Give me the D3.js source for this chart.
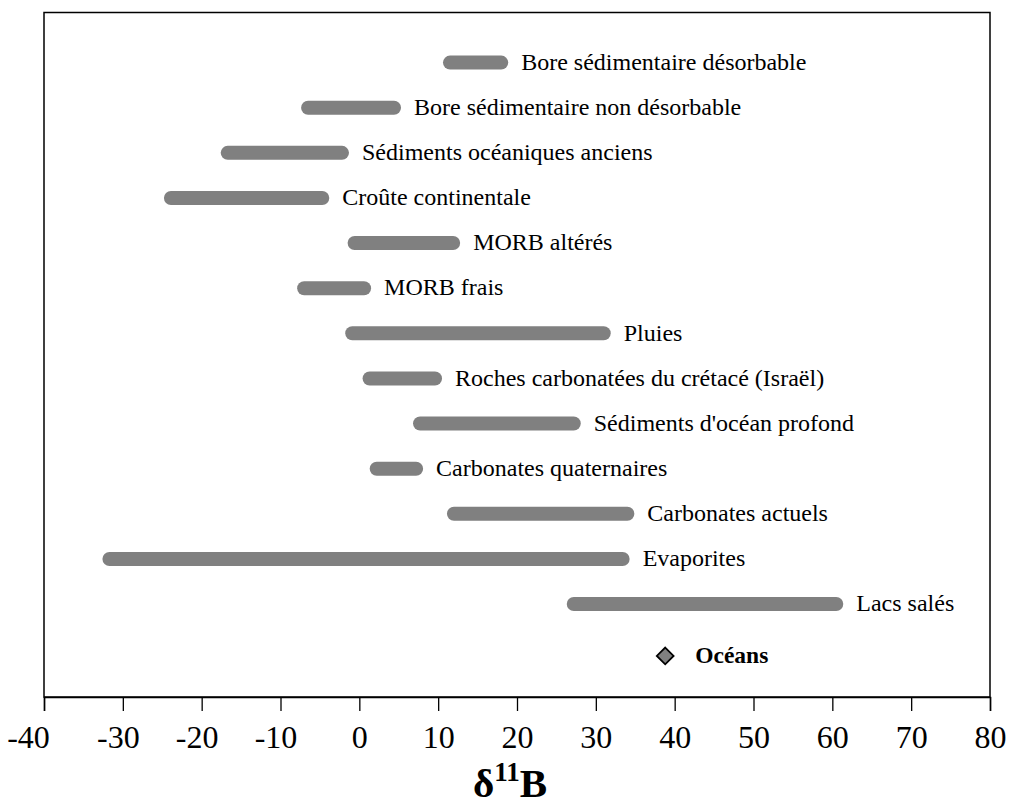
<!DOCTYPE html>
<html>
<head>
<meta charset="utf-8">
<script src="https://cdn.jsdelivr.net/npm/d3@7"></script>
<style>
  html, body { margin: 0; padding: 0; background: #fff; }
  svg { display: block; }
</style>
</head>
<body>
<svg id="chart" width="1010" height="806"></svg>
<script>
// ---- Data ----
const categories = [
  "Bore sédimentaire désorbable",
  "Bore sédimentaire non désorbable",
  "Sédiments océaniques anciens",
  "Croûte continentale",
  "MORB altérés",
  "MORB frais",
  "Pluies",
  "Roches carbonatées du crétacé (Israël)",
  "Sédiments d'océan profond",
  "Carbonates quaternaires",
  "Carbonates actuels",
  "Evaporites",
  "Lacs salés"
];
const lowValues  = [11.5, -6.5, -16.7, -23.9, -0.6, -7.0, -0.9, 1.3, 7.7, 2.2, 12.0, -31.7, 27.2];
const highValues = [18.0,  4.4,  -2.2,  -4.7, 11.9,  0.6, 31.0, 9.6, 27.2, 7.2, 34.0, 33.4, 60.5];
const rowLevels  = [14, 13, 12, 11, 10, 9, 8, 7, 6, 5, 4, 3, 2];

const oceanLabel = "Océans";
const oceanValue = 38.8;
const oceanLevel = 0.85;

const xTicks = [-40, -30, -20, -10, 0, 10, 20, 30, 40, 50, 60, 70, 80];
const xDomain = [-40, 80];
const yDomain = [-0.06, 15.11];

// ---- Layout ----
const mLeft = 44, mRight = 990, mTop = 12.5, mBottom = 697;
const svg = d3.select("#chart");
const serif = "'Liberation Serif', 'Times New Roman', Times, serif";

const x = d3.scaleLinear().domain(xDomain).range([mLeft, mRight]);
const y = d3.scaleLinear().domain(yDomain).range([mBottom, mTop]);

// frame (plot area border)
svg.append("rect")
  .attr("x", mLeft).attr("y", mTop)
  .attr("width", mRight - mLeft).attr("height", mBottom - mTop)
  .attr("fill", "none").attr("stroke", "#000").attr("stroke-width", 1.5);

// x axis
const xAxis = d3.axisBottom(x).tickValues(xTicks).tickSize(14).tickPadding(14)
  .tickFormat(d3.format("d"));
const gx = svg.append("g").attr("transform", `translate(0,${mBottom})`).call(xAxis);
gx.select(".domain").attr("stroke", "#000").attr("stroke-width", 1.5);
gx.selectAll(".tick line").attr("stroke", "#000").attr("stroke-width", 1.3);
gx.selectAll(".tick text")
  .attr("font-family", serif).attr("font-size", 32).attr("fill", "#000")
  .attr("dx", (d, i) => i === 0 ? -16 : (d < 0 ? -5 : 0))
  .text(d => d < 0 ? "-" + Math.abs(d) : d);

// axis title
const title = svg.append("text")
  .attr("x", (mLeft + mRight) / 2 - 7).attr("y", 797)
  .attr("text-anchor", "middle")
  .attr("font-family", serif).attr("font-weight", "bold").attr("font-size", 41)
  .attr("fill", "#000");
title.append("tspan").text("δ");
title.append("tspan").attr("font-size", 27).attr("dy", -16).text("11");
title.append("tspan").attr("dy", 16).text("B");

// range bars
const rows = categories.map((c, i) => ({ name: c, lo: lowValues[i], hi: highValues[i], lvl: rowLevels[i] }));

svg.append("g").selectAll("line").data(rows).join("line")
  .attr("x1", d => x(d.lo)).attr("x2", d => x(d.hi))
  .attr("y1", d => y(d.lvl)).attr("y2", d => y(d.lvl))
  .attr("stroke", "#808080").attr("stroke-width", 14).attr("stroke-linecap", "round");

svg.append("g").selectAll("text").data(rows).join("text")
  .attr("x", d => x(d.hi) + 20).attr("y", d => y(d.lvl)).attr("dy", "0.3em")
  .attr("font-family", serif).attr("font-size", 24).attr("fill", "#000")
  .text(d => d.name);

// ocean point
const ox = x(oceanValue), oy = y(oceanLevel);
svg.append("path")
  .attr("d", d3.symbol().type(d3.symbolDiamond2).size(180)())
  .attr("transform", `translate(${ox},${oy})`)
  .attr("fill", "#808080").attr("stroke", "#000").attr("stroke-width", 1.8);
svg.append("text")
  .attr("x", ox + 30).attr("y", oy).attr("dy", "0.3em")
  .attr("font-family", serif).attr("font-weight", "bold").attr("font-size", 23.5).attr("fill", "#000")
  .text(oceanLabel);
</script>
</body>
</html>
